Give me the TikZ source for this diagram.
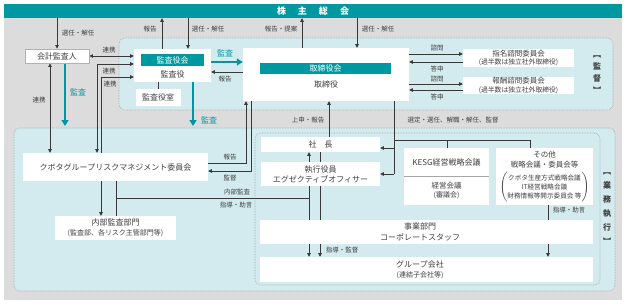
\documentclass[tikz,border=0pt]{standalone}
\usepackage{fontspec}
\setmainfont{Noto Sans CJK JP}
\usetikzlibrary{arrows.meta}
\definecolor{teal1}{HTML}{0098A0}
\definecolor{bgray}{HTML}{DCDCDC}
\definecolor{lblue}{HTML}{D3EBEE}
\definecolor{txt}{HTML}{404040}
\definecolor{lncol}{HTML}{383838}
\definecolor{dotc}{HTML}{A0A0A0}
\pgfdeclarelayer{regions}
\pgfdeclarelayer{lines}
\pgfsetlayers{regions,lines,main}
\begin{document}
\begin{tikzpicture}[x=1pt,y=-1pt,
  box/.style={fill=white,inner sep=0pt,text=txt,align=center,font=\fontsize{8}{10}\selectfont},
  lbl/.style={text=txt,inner sep=0pt,font=\fontsize{6.5}{7.5}\selectfont},
  tlbl/.style={text=teal1,inner sep=0pt,font=\fontsize{8}{9}\selectfont},
  region/.style={fill=lblue,draw=dotc,densely dotted,line width=0.6pt,rounded corners=6pt,inner sep=0pt},
  arr/.style={draw=lncol,line width=0.7pt,-{Triangle[length=3.6pt,width=3.4pt]}},
  darr/.style={draw=lncol,line width=0.7pt,{Triangle[length=3.6pt,width=3.4pt]}-{Triangle[length=3.6pt,width=3.4pt]}},
  plain/.style={draw=lncol,line width=0.7pt},
  tarr/.style={draw=teal1,line width=1.8pt,-{Triangle[length=6pt,width=7pt]}},
  hdr/.style={fill=teal1,text=white,inner sep=0pt,font=\fontsize{8}{9}\selectfont},
  vlbl/.style={text=txt,inner sep=0pt,align=center},
]
\useasboundingbox (0,0) rectangle (627,305);

% ---------- background regions
\begin{pgfonlayer}{regions}
\node[fill=bgray,inner sep=0pt,minimum width=618pt,minimum height=296pt] (bg) at (313,152) {};
\node[region,minimum width=494pt,minimum height=72pt] (upper) at (366,74) {};
\node[region,minimum width=601pt,minimum height=163pt] (lower) at (314.5,209.5) {};
\node[region,minimum width=345pt,minimum height=152pt] (inner) at (427.5,209) {};
\end{pgfonlayer}

% ---------- boxes
\node[fill=teal1,text=white,inner sep=0pt,minimum width=618pt,minimum height=14pt,font=\fontsize{9}{10}\selectfont\bfseries] (sokai) at (313,11) {株\hspace{12pt}主\hspace{12pt}総\hspace{12pt}会};

\node[box,draw=gray!60,line width=0.5pt,minimum width=64pt,minimum height=14pt] (kaikei) at (57,56) {会計監査人};

\node[box,minimum width=77pt,minimum height=33pt] (kansayaku) at (172.5,65.5) {};
\node[hdr,minimum width=63pt,minimum height=12pt] (kansakai) at (172.5,60) {監査役会};
\node[box,fill=none] (kansayakut) at (172.5,74) {監査役};
\node[box,minimum width=45pt,minimum height=17pt] (shitsu) at (158,97.5) {監査役室};

\node[box,minimum width=166pt,minimum height=53pt] (tori) at (326,74.5) {};
\node[hdr,minimum width=131pt,minimum height=11pt] (torikai) at (325.5,68.5) {取締役会};
\node[box,fill=none] (torit) at (326,84) {取締役};

\node[box,minimum width=111pt,minimum height=18pt,font=\fontsize{7.5}{8.5}\selectfont] (shimei) at (518.5,58) {指名諮問委員会\\{\fontsize{6.8}{7.5}\selectfont (過半数は独立社外取締役)}};
\node[box,minimum width=111pt,minimum height=17pt,font=\fontsize{7.5}{8.5}\selectfont] (houshu) at (518.5,85.5) {報酬諮問委員会\\{\fontsize{6.8}{7.5}\selectfont (過半数は独立社外取締役)}};

\node[box,minimum width=185pt,minimum height=28pt] (risk) at (115.5,167) {クボタグループリスクマネジメント委員会};
\node[box,minimum width=121pt,minimum height=24pt] (naibu) at (115.5,228) {内部監査部門\\{\fontsize{7}{8}\selectfont (監査部、各リスク主管部門等)}};

\node[box,minimum width=119pt,minimum height=15pt] (shacho) at (320.5,144.5) {社\hspace{8pt}長};
\node[box,minimum width=119pt,minimum height=24pt] (shikko) at (320.5,174) {執行役員\\エグゼクティブオフィサー};

\node[box,minimum width=85pt,minimum height=28pt] (kesg) at (446.5,162) {KESG経営戦略会議};
\node[box,minimum width=85pt,minimum height=29pt,font=\fontsize{7.5}{9}\selectfont] (keiei) at (446.5,190.5) {経営会議\\{\fontsize{7}{8}\selectfont (審議会)}};
\draw[gray!70,line width=0.6pt] (kesg.south west) -- (kesg.south east);

\node[box,minimum width=97pt,minimum height=57pt] (sonota) at (544.5,176.5) {};
\node[vlbl,font=\fontsize{7.5}{10.5}\selectfont] (sonotat) at (544.5,159.5) {その他\\戦略会議・委員会等};
\node[text=txt,inner sep=0pt,font=\fontsize{6.6}{9}\selectfont] (sonotal) at (544.5,187.5) {$\left(\begin{tabular}{@{}c@{}}クボタ生産方式戦略会議\\IT経営戦略会議\\財務情報等開示委員会 等\end{tabular}\right)$};

\node[box,minimum width=333pt,minimum height=24pt] (jigyo) at (426.5,232) {};
\node[vlbl,font=\fontsize{8}{10.5}\selectfont] (jigyot) at (420,232) {事業部門\\コーポレートスタッフ};
\node[box,minimum width=333pt,minimum height=25pt] (group) at (426.5,269.5) {};
\node[vlbl,font=\fontsize{8}{10}\selectfont] (groupt) at (420,269.5) {グループ会社\\{\fontsize{7}{8}\selectfont (連結子会社等)}};

% ---------- vertical bracket labels
\node[vlbl,font=\fontsize{8}{12}\selectfont\bfseries] (kantoku) at (597,75) {︻\\監\\督\\︼};
\node[vlbl,font=\fontsize{8}{14}\selectfont\bfseries] (gyomu) at (607,209) {︻\\業\\務\\執\\行\\︼};

% ---------- coordinates
\coordinate (x162) at (162,0);
\coordinate (x188) at (188,0);
\coordinate (x302) at (302,0);
\coordinate (x357) at (357,0);
\coordinate (p50) at (50,0);
\coordinate (p97) at (97,64);
\coordinate (p101) at (101,77);
\coordinate (t65) at (65,126);
\coordinate (t193) at (193,126);
\coordinate (q62t) at (0,62);
\coordinate (q72) at (0,72);
\coordinate (q54) at (0,54);
\coordinate (q62) at (0,62);
\coordinate (q84) at (0,84);
\coordinate (q90) at (0,90);
\coordinate (r163) at (246,163);
\coordinate (r171) at (251,171);
\coordinate (x329) at (329,0);
\coordinate (s394) at (394,140);
\coordinate (s148) at (394,148);
\coordinate (k447) at (447,140);
\coordinate (k530) at (530,140);
\coordinate (ia) at (116,198);
\coordinate (x309) at (309,0);
\coordinate (x320) at (320,0);
\coordinate (x548) at (548,0);

% ---------- connectors
\begin{pgfonlayer}{lines}
\draw[arr] (kaikei.north |- sokai.south) -- (kaikei.north);
\draw[arr] (kansayaku.north -| x162) -- (sokai.south -| x162);
\draw[arr] (sokai.south -| x188) -- (kansayaku.north -| x188);
\draw[arr] (tori.north -| x302) -- (sokai.south -| x302);
\draw[arr] (sokai.south -| x357) -- (tori.north -| x357);

\draw[darr] (kaikei.east) -- (kaikei.east -| kansayaku.west);
\draw[darr] (risk.north -| p97) |- (kansayaku.west |- p97);
\draw[darr] (naibu.north -| p101) |- (kansayaku.west |- p101);
\draw[darr] (kaikei.south -| p50) -- (risk.north -| p50);

\draw[tarr] (kaikei.south -| t65) -- (t65);
\draw[tarr] (kansayaku.south -| t193) -- (t193);
\draw[tarr] (kansayaku.east |- q62t) -- (tori.west |- q62t);
\draw[arr] (tori.west |- q72) -- (kansayaku.east |- q72);
\draw[plain] (kansayaku.south -| shitsu.north) -- (shitsu.north);

\draw[arr] (tori.east |- q54) -- (shimei.west |- q54);
\draw[arr] (shimei.west |- q62) -- (tori.east |- q62);
\draw[arr] (tori.east |- q84) -- (houshu.west |- q84);
\draw[arr] (houshu.west |- q90) -- (tori.east |- q90);

\draw[arr] (risk.east |- r163) -| (tori.south -| r163);
\draw[arr] (tori.south -| r171) |- (risk.east |- r171);

\draw[arr] (shacho.north -| x329) -- (tori.south -| x329);

\draw[plain] (tori.south -| s394) -- (s394 |- shikko.east);
\draw[arr] (s394 |- shikko.east) -- (shikko.east);
\draw[arr] (s148) -- (shacho.east |- s148);
\draw[plain] (s394) -- (k530) -- (sonota.north -| k530);
\draw[plain] (k447) -- (kesg.north -| k447);

\draw[plain] (risk.south -| ia) -- (naibu.north -| ia);
\draw[plain] (ia) -- (ia -| x309);
\draw[darr] (shacho.south -| x309) -- (group.north -| x309);
\draw[arr] (shacho.south -| x320) -- (group.north -| x320);
\draw[arr] (sonota.south -| x548) -- (group.north -| x548);
\end{pgfonlayer}

% ---------- labels
\node[lbl] (l1) at (78,33) {選任・解任};
\node[lbl] (l2) at (150,29) {報告};
\node[lbl] (l3) at (208,29) {選任・解任};
\node[lbl] (l4) at (281,29) {報告・提案};
\node[lbl] (l5) at (378,29) {選任・解任};
\node[lbl] (l6) at (109,50) {連携};
\node[lbl] (l7) at (109,71) {連携};
\node[lbl] (l8) at (110,84) {連携};
\node[lbl] (l9) at (39,100) {連携};
\node[tlbl] (l10) at (78,92) {監査};
\node[tlbl] (l11) at (225,53) {監査};
\node[lbl] (l12) at (225,79) {報告};
\node[tlbl] (l13) at (209,120) {監査};
\node[lbl] (l14) at (308,120) {上申・報告};
\node[lbl] (l15) at (453,120) {選定・選任、解職・解任、監督};
\node[lbl] (l16) at (437,48) {諮問};
\node[lbl] (l17) at (437,69) {答申};
\node[lbl] (l18) at (437,79) {諮問};
\node[lbl] (l19) at (437,97) {答申};
\node[lbl] (l20) at (230,157) {報告};
\node[lbl] (l21) at (230,178) {監督};
\node[lbl] (l22) at (237,192) {内部監査};
\node[lbl] (l23) at (236,205) {指導・助言};
\node[lbl] (l24) at (342,250) {指導・監督};
\node[lbl] (l25) at (569,210) {指導・助言};
\end{tikzpicture}
\end{document}
